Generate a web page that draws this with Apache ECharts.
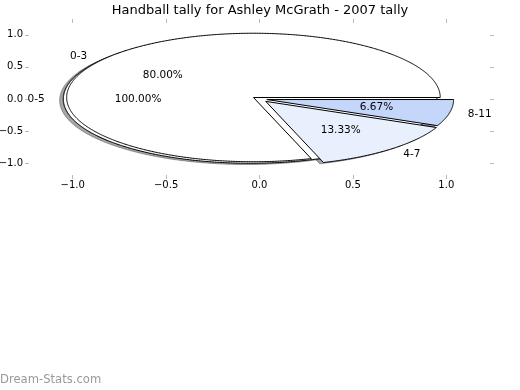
<!DOCTYPE html>
<html><head><meta charset="utf-8">
<script src="https://cdn.jsdelivr.net/npm/echarts@6/dist/echarts.min.js"></script>
<style>html,body{margin:0;padding:0;background:#fff}#c{width:520px;height:390px}</style>
</head><body><div id="c"></div>
<script>
// ---- data ----
const chartTitle = 'Handball tally for Ashley McGrath - 2007 tally';
const watermark = 'Dream-Stats.com';
const outerLabels = ['0-5'];
const outerValues = [100];
const outerExplode = [0.05];
const outerColors = ['#ffffff'];
const innerLabels = ['0-3', '4-7', '8-11'];
const innerValues = [12, 2, 1];
const innerExplode = [0.04, 0.05, 0.04];
const innerColors = ['#ffffff', '#e9f0fd', '#c4d7fb'];
const xTicks = [-1, -0.5, 0, 0.5, 1];
const yTicks = [-1, -0.5, 0, 0.5, 1];

// ---- build wedges (matplotlib pie geometry) ----
function buildPie(labels, values, explode, colors) {
  const total = values.reduce((a, b) => a + b, 0);
  let acc = 0;
  return values.map((v, i) => {
    const t1 = 360 * acc / total;
    acc += v;
    const t2 = 360 * acc / total;
    const mid = (t1 + t2) / 2 * Math.PI / 180;
    const cx = explode[i] * Math.cos(mid), cy = explode[i] * Math.sin(mid);
    return {
      t1, t2, cx, cy, color: colors[i], label: labels[i],
      pct: (100 * v / total).toFixed(2) + '%',
      lx: cx + 1.1 * Math.cos(mid), ly: cy + 1.1 * Math.sin(mid),
      px: cx + 0.6 * Math.cos(mid), py: cy + 0.6 * Math.sin(mid)
    };
  });
}
const wedges = buildPie(outerLabels, outerValues, outerExplode, outerColors)
  .concat(buildPie(innerLabels, innerValues, innerExplode, innerColors));

function wedgePoints(api, w, ox, oy) {
  const pts = [];
  const full = Math.abs(w.t2 - w.t1 - 360) < 1e-9;
  if (!full) pts.push(api.coord([w.cx + ox, w.cy + oy]));
  const n = Math.max(2, Math.ceil((w.t2 - w.t1) / 0.5));
  for (let k = 0; k <= n; k++) {
    const a = (w.t1 + (w.t2 - w.t1) * k / n) * Math.PI / 180;
    pts.push(api.coord([w.cx + ox + Math.cos(a), w.cy + oy + Math.sin(a)]));
  }
  return pts;
}
function darker(hex) {
  const r = parseInt(hex.slice(1, 3), 16), g = parseInt(hex.slice(3, 5), 16), b = parseInt(hex.slice(5, 7), 16);
  return 'rgba(' + Math.round(r * 0.3) + ',' + Math.round(g * 0.3) + ',' + Math.round(b * 0.3) + ',0.5)';
}

const chart = echarts.init(document.getElementById('c'), null, {renderer: 'canvas'});
const FONT = 'DejaVu Sans';
const tickFmt = v => (v < 0 ? '\u2212' : '') + Math.abs(v).toFixed(1);
const tickStyle = {show: true, inside: false, length: 4, lineStyle: {color: '#b8b8b8', width: 1}};
const hiddenLine = {show: true, onZero: false, lineStyle: {color: '#ffffff', opacity: 0}};
const dataIdx = wedges.map((w, i) => [i]);

chart.setOption({
  animation: false,
  backgroundColor: '#ffffff',
  title: {
    text: chartTitle, left: 'center', top: 4, padding: 0,
    textStyle: {fontFamily: FONT, fontSize: 13, fontWeight: 'normal', color: '#000'}
  },
  graphic: [{
    type: 'text', left: 0, top: 374,
    style: {text: watermark, fontFamily: FONT, fontSize: 11.6, fill: '#999999'}
  }],
  grid: {left: 29, top: 23, width: 461, height: 152, containLabel: false, outerBoundsMode: 'none'},
  xAxis: [
    {type: 'value', position: 'bottom', min: -1.234, max: 1.234,
      axisLine: hiddenLine, splitLine: {show: false},
      axisTick: Object.assign({customValues: xTicks}, tickStyle),
      axisLabel: {customValues: xTicks, formatter: tickFmt, margin: 5, fontFamily: FONT, fontSize: 10, color: '#000'}},
    {type: 'value', position: 'top', min: -1.234, max: 1.234,
      axisLine: hiddenLine, splitLine: {show: false},
      axisTick: Object.assign({customValues: xTicks}, tickStyle),
      axisLabel: {show: false, customValues: xTicks}}
  ],
  yAxis: [
    {type: 'value', position: 'left', min: -1.183, max: 1.183,
      axisLine: hiddenLine, splitLine: {show: false},
      axisTick: Object.assign({customValues: yTicks}, tickStyle),
      axisLabel: {customValues: yTicks, formatter: tickFmt, margin: 6, fontFamily: FONT, fontSize: 10, color: '#000'}},
    {type: 'value', position: 'right', min: -1.183, max: 1.183,
      axisLine: hiddenLine, splitLine: {show: false},
      axisTick: Object.assign({customValues: yTicks}, tickStyle),
      axisLabel: {show: false, customValues: yTicks}}
  ],
  series: [
    { // shadows (drawn below all wedges)
      type: 'custom', z: 1, clip: false, data: dataIdx, silent: true,
      renderItem: (params, api) => {
        const w = wedges[params.dataIndex];
        const c = darker(w.color);
        return {type: 'polygon', shape: {points: wedgePoints(api, w, -0.02, -0.02)},
          style: {fill: c, stroke: c, lineWidth: 1}};
      }
    },
    { // wedges
      type: 'custom', z: 2, clip: false, data: dataIdx, silent: true,
      renderItem: (params, api) => {
        const w = wedges[params.dataIndex];
        return {type: 'polygon', shape: {points: wedgePoints(api, w, 0, 0)},
          style: {fill: w.color, stroke: '#000', lineWidth: 1, lineJoin: 'miter'}};
      }
    },
    { // labels
      type: 'custom', z: 3, clip: false, data: dataIdx, silent: true,
      renderItem: (params, api) => {
        const w = wedges[params.dataIndex];
        const lp = api.coord([w.lx, w.ly]);
        const pp = api.coord([w.px, w.py]);
        return {type: 'group', children: [
          {type: 'text', x: lp[0], y: lp[1], style: {text: w.label, fontFamily: FONT, fontSize: 10.5, fill: '#000',
            align: w.lx > 0 ? 'left' : 'right', verticalAlign: 'middle'}},
          {type: 'text', x: pp[0], y: pp[1], style: {text: w.pct, fontFamily: FONT, fontSize: 10.5, fill: '#000',
            align: 'center', verticalAlign: 'middle'}}
        ]};
      }
    }
  ]
});
</script></body></html>
